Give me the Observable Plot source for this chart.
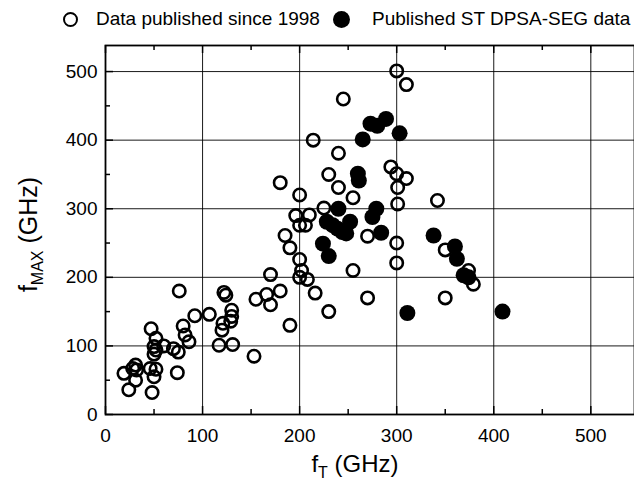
<!DOCTYPE html>
<html><head><meta charset="utf-8">
<script src="https://cdn.jsdelivr.net/npm/d3@7"></script>
<script src="https://cdn.jsdelivr.net/npm/@observablehq/plot@0.6"></script>
<style>
body{margin:0;background:#fff;font-family:Arial,"Liberation Sans",sans-serif;}
#wrap{position:relative;width:634px;height:488px;overflow:hidden;background:#fff}
#legend{position:relative;width:634px;height:40px;font-size:19px;color:#000}
#legend .it{position:absolute;top:8px;white-space:nowrap;line-height:22px}
#legend .sym{position:absolute;width:15px;height:15px;border-radius:50%;box-sizing:border-box}
</style></head><body>
<div id="wrap">
<div id="legend">
 <span class="sym" style="left:63px;top:12px;border:2.5px solid #000"></span>
 <span class="it" style="left:96px">Data published since 1998</span>
 <span class="sym" style="left:333px;top:11px;width:17px;height:17px;background:#000"></span>
 <span class="it" style="left:372px">Published ST DPSA-SEG data</span>
</div>
<div id="chart"></div>
</div>
<script>
// Open circles: data published since 1998 (fT, fMAX in GHz)
const openFt   = [19,24,28,31,32,31,46,48,47,50,52,50,52,50,52,60,70,74,75,76,80,82,86,92,107,117,120,121,122,124,129,130,130,131,153,155,166,170,170,180,180,185,190,190,196,200,206,200,200,202,200,208,210,214,216,225,230,230,240,240,245,255,255,270,270,294,300,310,301,301,300,300,300,310,342,350,350,374,379];
const openFmax = [60,36,67,72,65,50,67,32,125,55,66,99,94,88,111,100,96,61,91,180,129,116,106,144,146,101,123,133,178,174,136,152,143,102,85,168,175,160,204,180,338,261,243,130,290,276,276,320,226,210,200,197,291,400,177,301,150,350,381,331,460,316,210,260,170,361,351,344,331,307,250,221,501,481,312,240,170,210,190];
// Filled circles: published ST DPSA-SEG data
const stFt   = [224,230,228,234,239,244,248,252,240,260,261,265,273,280,289,303,275,279,284,311,338,360,362,369,374,409];
const stFmax = [249,231,281,276,271,266,264,281,300,351,341,401,424,421,431,410,288,300,265,148,261,245,227,203,200,150];

const majorTicks = [0,100,200,300,400,500];
const minorTicks = [50,150,250,350,450];
const gridTicks  = [100,200,300,400,500];

const openData = openFt.map((x,i)=>({x, y: openFmax[i]}));
const stData   = stFt.map((x,i)=>({x, y: stFmax[i]}));

const W=634, H=448, mT=5, mB=74, mL=105, mR=0;
const fh = H-mT-mB, fw = W-mL-mR;

const chart = Plot.plot({
  width: W, height: H,
  marginTop: mT, marginBottom: mB, marginLeft: mL, marginRight: mR,
  style: {fontFamily: "Arial, 'Liberation Sans', sans-serif", background: "#fff", color: "#000"},
  x: {domain: [0, 545]},
  y: {domain: [0, 538]},
  marks: [
    Plot.gridX(gridTicks, {stroke: "#000", strokeOpacity: 0.9, strokeWidth: 1}),
    Plot.gridY(gridTicks, {stroke: "#000", strokeOpacity: 0.9, strokeWidth: 1}),
    // inward ticks: bottom
    Plot.tickX(majorTicks, {x: d=>d, insetTop: fh-8, stroke: "#000", strokeWidth: 1.5}),
    Plot.tickX(minorTicks, {x: d=>d, insetTop: fh-5, stroke: "#000", strokeWidth: 1.5}),
    // top
    Plot.tickX(majorTicks, {x: d=>d, insetBottom: fh-8, stroke: "#000", strokeWidth: 1.5}),
    Plot.tickX(minorTicks, {x: d=>d, insetBottom: fh-5, stroke: "#000", strokeWidth: 1.5}),
    // left
    Plot.tickY(majorTicks, {y: d=>d, insetRight: fw-8, stroke: "#000", strokeWidth: 1.5}),
    Plot.tickY(minorTicks, {y: d=>d, insetRight: fw-5, stroke: "#000", strokeWidth: 1.5}),
    Plot.axisX(majorTicks, {tickSize: 0, tickPadding: 14, fontSize: 19, label: null}),
    Plot.axisY(majorTicks, {tickSize: 0, tickPadding: 8, fontSize: 19, label: null}),
    Plot.frame({stroke: "#000", strokeWidth: 1.8}),
    Plot.dot(openData, {x: "x", y: "y", r: 6.2, stroke: "#000", strokeWidth: 2.6, fill: "none"}),
    Plot.dot(stData, {x: "x", y: "y", r: 8, fill: "#000", stroke: "none"})
  ]
});
document.getElementById("chart").appendChild(chart);

// axis titles with subscripts
const svg = d3.select(chart);
const xt = svg.append("text")
  .attr("x", mL + 250).attr("y", H - 16)
  .attr("text-anchor", "middle")
  .attr("font-size", 24).attr("fill", "#000");
xt.append("tspan").text("f");
xt.append("tspan").attr("font-size", 16).attr("dy", 6).text("T");
xt.append("tspan").attr("dy", -6).text(" (GHz)");

const yt = svg.append("text")
  .attr("transform", `translate(37, ${mT + fh/2 + 5}) rotate(-90)`)
  .attr("text-anchor", "middle")
  .attr("font-size", 25).attr("fill", "#000");
yt.append("tspan").text("f");
yt.append("tspan").attr("font-size", 16).attr("dy", 6).text("MAX");
yt.append("tspan").attr("dy", -6).text(" (GHz)");
</script>
</body></html>
